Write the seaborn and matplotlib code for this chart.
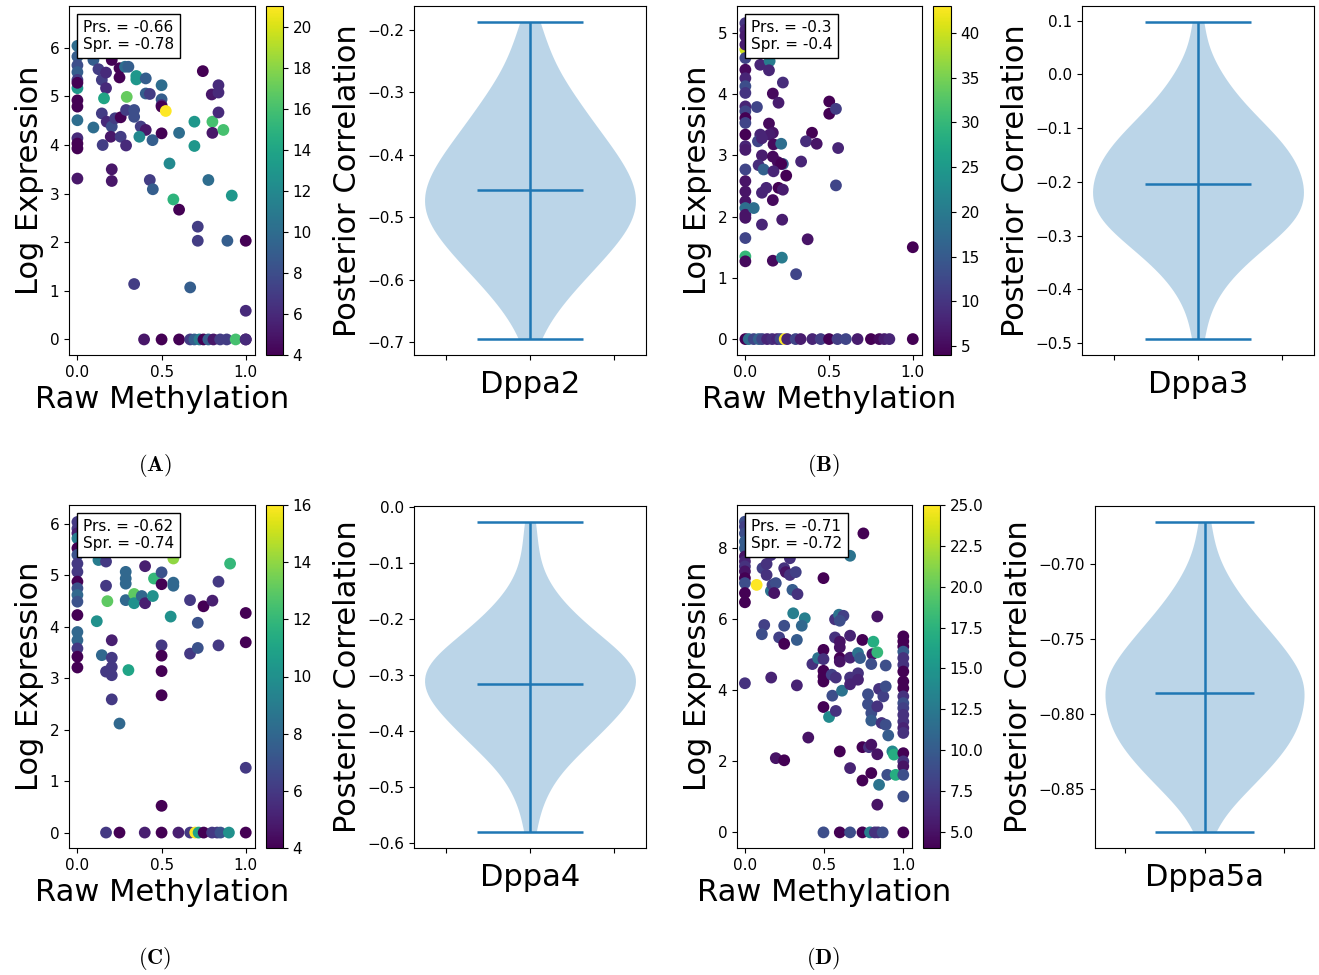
import numpy as np
import pandas as pd
import seaborn as sns
import matplotlib as mpl
import matplotlib.pyplot as plt
from matplotlib.offsetbox import AnchoredText

plt.rcParams['mathtext.fontset'] = 'cm'
plt.rcParams['xtick.labelsize'] = 11
plt.rcParams['ytick.labelsize'] = 11

# ---------------- data ----------------
# (A) Dppa2
a_meth = [0.0, 0.0, 0.0, 0.0, 0.0, 0.0, 0.0, 0.0, 0.0, 0.0, 0.0, 0.0, 0.0, 0.0,
          0.095, 0.125, 0.145, 0.17, 0.17, 0.158, 0.145, 0.174, 0.204, 0.224,
          0.257, 0.204, 0.25, 0.25, 0.283, 0.303, 0.35, 0.35, 0.406, 0.406,
          0.43, 0.293, 0.289, 0.337, 0.337, 0.376, 0.406, 0.368, 0.446, 0.198,
          0.257, 0.15, 0.289, 0.095, 0.204, 0.204, 0.43, 0.448,
          0.5, 0.5, 0.5, 0.5, 0.5, 0.525, 0.604, 0.547, 0.57, 0.604,
          0.695, 0.695, 0.715, 0.715, 0.745, 0.778, 0.802, 0.798, 0.802, 0.838,
          0.838, 0.838, 0.867, 0.917, 0.891, 1.0, 1.0, 0.337, 0.67,
          0.396, 0.5, 0.604, 0.67, 0.695, 0.725, 0.749, 0.778, 0.808, 0.848,
          0.887, 0.94, 1.0, 1.0]
a_expr = [6.04, 5.82, 5.64, 5.50, 5.34, 5.17, 5.28, 4.92, 4.79, 4.51, 4.14, 4.03, 3.93, 3.31,
          5.75, 5.56, 5.34, 5.49, 5.17, 4.96, 4.65, 4.48, 4.38, 4.55,
          4.57, 5.75, 5.58, 5.39, 5.61, 5.61, 5.42, 5.35, 5.37, 5.06,
          5.05, 4.99, 4.72, 4.72, 4.58, 4.38, 4.31, 4.17, 4.10, 4.17,
          4.17, 4.00, 3.99, 4.36, 3.50, 3.26, 3.28, 3.09,
          5.23, 4.94, 4.82, 4.79, 4.24, 4.70, 4.25, 3.62, 2.88, 2.67,
          4.48, 3.98, 2.32, 2.03, 5.52, 3.28, 4.48, 5.04, 4.25, 5.23,
          5.08, 4.67, 4.31, 2.96, 2.03, 2.03, 0.59, 1.14, 1.07,
          0, 0, 0, 0, 0, 0, 0, 0, 0, 0, 0, 0, 0, 0]
a_cov = [10, 9, 8, 9, 7, 13, 4, 4, 4, 10, 6, 4, 4, 5,
         9, 7, 7, 6, 6, 14, 7, 6, 8, 7,
         4, 4, 4, 4, 10, 9, 13, 13, 9, 9,
         7, 17, 7, 8, 8, 7, 5, 12, 9, 5,
         7, 7, 6, 10, 5, 5, 7, 9,
         10, 9, 6, 4, 4, 21, 10, 12, 15, 4,
         13, 13, 7, 7, 4, 10, 16, 5, 5, 6,
         6, 6, 16, 13, 9, 4, 6, 7, 9,
         5, 4, 4, 7, 9, 11, 4, 9, 5, 7, 7, 16, 4, 6]
a_post = [-0.695, -0.662,
          -0.645, -0.635, -0.625, -0.615, -0.605,
          -0.597, -0.592, -0.586, -0.581, -0.575, -0.570, -0.564, -0.559, -0.553,
          -0.548, -0.544, -0.540, -0.536, -0.533, -0.529, -0.525, -0.521, -0.517,
          -0.513, -0.510, -0.506, -0.502,
          -0.498, -0.495, -0.491, -0.488, -0.485, -0.481, -0.478, -0.475, -0.472,
          -0.468, -0.465, -0.462, -0.458, -0.455, -0.452,
          -0.448, -0.444, -0.440, -0.436, -0.433, -0.429, -0.425, -0.421, -0.417,
          -0.413, -0.410, -0.406, -0.402,
          -0.397, -0.393, -0.388, -0.383, -0.378, -0.373, -0.368, -0.363, -0.358, -0.353,
          -0.346, -0.339, -0.332, -0.325, -0.318, -0.311, -0.304,
          -0.294, -0.282, -0.270, -0.257,
          -0.238, -0.215,
          -0.187]

# (B) Dppa3
b_meth = [0.0, 0.0, 0.0, 0.0, 0.0, 0.0, 0.0, 0.0, 0.0, 0.0, 0.0, 0.0, 0.0, 0.0,
          0.0, 0.0, 0.0, 0.0, 0.0, 0.0, 0.0, 0.0, 0.0, 0.0, 0.0, 0.0, 0.0,
          0.089, 0.145, 0.141, 0.224, 0.164, 0.198, 0.069, 0.501, 0.501, 0.541,
          0.554, 0.398, 0.362, 0.426, 0.141, 0.164, 0.145, 0.089, 0.075, 0.099,
          0.168, 0.214, 0.099, 0.164, 0.194, 0.224, 0.214, 0.333, 0.079, 0.109,
          0.168, 0.244, 0.125, 0.099, 0.198, 0.224, 0.164, 0.05, 0.22, 0.099,
          0.372, 0.164, 0.218, 0.303, 0.541, 1.0,
          0.0, 0.02, 0.05, 0.08, 0.1, 0.13, 0.16, 0.19, 0.21, 0.235, 0.25, 0.3,
          0.33, 0.4, 0.45, 0.5, 0.55, 0.6, 0.67, 0.75, 0.8, 0.83, 0.86, 1.0]
b_expr = [4.73, 5.16, 5.05, 4.95, 4.81, 4.59, 4.40, 4.26, 4.13, 4.02, 3.80, 3.72, 3.61, 3.53,
          3.34, 3.15, 3.09, 2.77, 2.58, 2.41, 2.25, 2.14, 2.03, 1.98, 1.65, 1.35, 1.27,
          4.48, 4.54, 4.39, 4.19, 4.01, 3.86, 3.79, 3.88, 3.68, 3.76,
          3.12, 3.37, 3.23, 3.19, 3.52, 3.37, 3.34, 3.34, 3.23, 3.28,
          3.18, 3.19, 3.00, 2.98, 2.89, 2.86, 2.86, 2.90, 2.84, 2.77,
          2.74, 2.67, 2.47, 2.39, 2.47, 2.44, 2.27, 2.14, 1.95, 1.87,
          1.63, 1.28, 1.33, 1.06, 2.51, 1.50,
          0, 0, 0, 0, 0, 0, 0, 0, 0, 0, 0, 0,
          0, 0, 0, 0, 0, 0, 0, 0, 0, 0, 0, 0]
b_cov = [40, 10, 8, 7, 7, 12, 5, 8, 13, 10, 8, 12, 4, 12,
         4, 8, 7, 12, 6, 6, 6, 18, 6, 6, 12, 30, 5,
         8, 20, 8, 9, 5, 7, 12, 4, 4, 11,
         8, 4, 9, 6, 5, 6, 7, 8, 12, 8,
         5, 18, 7, 5, 5, 16, 4, 8, 9, 16,
         8, 4, 8, 8, 4, 7, 5, 18, 7, 8,
         6, 5, 20, 12, 12, 4,
         4, 18, 12, 16, 12, 8, 9, 8, 12, 43, 8, 12,
         7, 8, 11, 4, 11, 12, 7, 4, 5, 7, 8, 4]
b_post = [-0.493,
          -0.438, -0.413,
          -0.392, -0.380, -0.367, -0.355,
          -0.347, -0.341, -0.334, -0.328, -0.322, -0.316, -0.309, -0.303,
          -0.298, -0.294, -0.290, -0.286, -0.282, -0.278, -0.275, -0.271, -0.267,
          -0.263, -0.259, -0.256, -0.252,
          -0.248, -0.245, -0.241, -0.238, -0.234, -0.230, -0.227, -0.223, -0.220,
          -0.216, -0.212, -0.209, -0.205, -0.202,
          -0.198, -0.194, -0.190, -0.186, -0.182, -0.178, -0.175, -0.171, -0.167,
          -0.163, -0.159, -0.156, -0.152,
          -0.148, -0.143, -0.139, -0.134, -0.130, -0.125, -0.120, -0.116, -0.111,
          -0.107, -0.102,
          -0.096, -0.089, -0.082, -0.075, -0.068, -0.061, -0.054,
          -0.044, -0.031, -0.019, -0.006,
          0.013, 0.038,
          0.098]

# (C) Dppa4
c_meth = [0.0, 0.0, 0.0, 0.0, 0.0, 0.0, 0.0, 0.0, 0.0, 0.0, 0.0, 0.0, 0.0, 0.0, 0.0, 0.0, 0.0, 0.0,
          0.125, 0.17, 0.17, 0.178, 0.115, 0.145, 0.17, 0.204, 0.204, 0.204,
          0.204, 0.204, 0.25, 0.303, 0.287, 0.287, 0.287, 0.287, 0.337, 0.337,
          0.382, 0.402, 0.402, 0.448, 0.455, 0.5, 0.5, 0.5, 0.5, 0.5,
          0.5, 0.5, 0.57, 0.57, 0.57, 0.554, 0.669, 0.669, 0.715, 0.715,
          0.749, 0.802, 0.838, 0.838, 0.907, 1.0, 1.0, 1.0,
          0.17, 0.25, 0.4, 0.5, 0.6, 0.67, 0.7, 0.72, 0.75, 0.8, 0.83, 0.85, 0.9, 1.0]
c_expr = [6.04, 5.91, 5.82, 5.72, 5.53, 5.40, 5.23, 5.07, 4.88, 4.75, 4.62, 4.49, 4.23, 3.90,
          3.74, 3.58, 3.42, 3.21,
          5.30, 5.27, 4.80, 4.50, 4.11, 3.45, 3.13, 3.74, 3.40, 3.22,
          3.06, 2.59, 2.12, 3.16, 5.07, 4.94, 4.84, 4.52, 4.64, 4.46,
          4.60, 4.46, 5.18, 4.60, 4.94, 5.06, 4.83, 3.64, 3.44, 3.14,
          2.67, 0.52, 5.33, 4.86, 4.80, 4.20, 4.52, 3.48, 4.08, 3.59,
          4.40, 4.51, 4.88, 3.64, 5.23, 4.27, 3.70, 1.26,
          0, 0, 0, 0, 0, 0, 0, 0, 0, 0, 0, 0, 0, 0]
c_cov = [6, 6, 5, 9, 4, 7, 6, 6, 4, 7, 8, 7, 4, 8, 8, 6, 4, 4,
         9, 6, 6, 13, 10, 8, 6, 5, 6, 6,
         6, 6, 8, 11, 8, 8, 8, 8, 13, 10,
         8, 5, 5, 10, 12, 7, 4, 6, 4, 4,
         4, 4, 14, 8, 8, 10, 6, 6, 7, 7,
         4, 5, 6, 6, 12, 4, 4, 6,
         6, 4, 5, 4, 5, 6, 16, 11, 4, 6, 6, 7, 10, 4]
c_post = [-0.582,
          -0.535, -0.512,
          -0.493, -0.481, -0.468, -0.456,
          -0.447, -0.442, -0.436, -0.431, -0.425, -0.419, -0.414, -0.408, -0.403,
          -0.398, -0.394, -0.390, -0.386, -0.382, -0.378, -0.375, -0.371, -0.367,
          -0.363, -0.359, -0.356, -0.352,
          -0.349, -0.346, -0.343, -0.340, -0.337, -0.334, -0.331, -0.328, -0.325,
          -0.322, -0.319, -0.316, -0.313, -0.310, -0.307, -0.304, -0.301,
          -0.298, -0.295, -0.292, -0.289, -0.286, -0.283, -0.280, -0.277, -0.274,
          -0.271, -0.268, -0.265, -0.262, -0.259, -0.256, -0.253,
          -0.247, -0.242, -0.237, -0.232, -0.227, -0.222, -0.217, -0.212, -0.207, -0.202,
          -0.195, -0.185, -0.175, -0.165, -0.155,
          -0.138, -0.113,
          -0.075,
          -0.026]

# (D) Dppa5a
d_meth = [0.0, 0.0, 0.0, 0.0, 0.0, 0.0, 0.0, 0.0, 0.0, 0.0, 0.0, 0.0, 0.0, 0.0,
          0.074, 0.111, 0.137, 0.137, 0.164, 0.174, 0.195, 0.185, 0.164, 0.248,
          0.258, 0.284, 0.284, 0.321, 0.3, 0.332, 0.496, 0.748, 0.664, 0.122,
          0.107, 0.216, 0.248, 0.248, 0.305, 0.378, 0.359, 0.328, 0.166, 0.328,
          0.4, 0.195, 0.248,
          0.426, 0.462, 0.496, 0.496, 0.496, 0.496, 0.496, 0.496, 0.548, 0.574,
          0.552, 0.531, 0.574, 0.613, 0.599, 0.569, 0.594, 0.622, 0.599, 0.569,
          0.599, 0.599, 0.599, 0.599, 0.664, 0.664, 0.664, 0.664, 0.664, 0.714,
          0.727, 0.714, 0.714, 0.742, 0.742, 0.742, 0.777, 0.777, 0.798, 0.798,
          0.783, 0.798, 0.798, 0.811, 0.805, 0.798, 0.836, 0.836, 0.836, 0.847,
          0.836, 0.847, 0.836, 0.874, 0.889, 0.889, 0.863, 0.889, 0.905, 0.899,
          0.931, 0.941, 0.952,
          1.0, 1.0, 1.0, 1.0, 1.0, 1.0, 1.0, 1.0, 1.0, 1.0, 1.0,
          1.0, 1.0, 1.0, 1.0, 1.0, 1.0, 1.0, 1.0, 1.0, 1.0, 1.0,
          0.496, 0.599, 0.664, 0.742, 0.79, 0.82, 0.84, 0.87]
d_expr = [8.75, 8.61, 8.42, 8.19, 8.00, 7.77, 7.63, 7.49, 7.35, 7.16, 7.02, 6.74, 6.48, 4.20,
          6.97, 7.44, 7.56, 7.25, 6.80, 6.97, 7.02, 6.74, 7.81, 7.44,
          7.33, 7.25, 7.72, 7.33, 6.83, 6.71, 7.16, 8.42, 7.79, 5.84,
          5.58, 5.49, 5.31, 5.82, 6.17, 6.03, 5.82, 5.42, 4.36, 4.14,
          2.67, 2.09, 2.03,
          4.74, 4.91, 5.14, 4.88, 4.55, 4.39, 4.25, 3.53, 4.44, 4.36,
          3.85, 3.25, 3.42, 3.99, 2.28, 6.00, 6.13, 6.10, 5.96, 5.49,
          5.37, 5.21, 4.91, 4.81, 5.54, 4.92, 4.36, 4.17, 1.81, 5.05,
          4.91, 4.48, 4.30, 5.42, 2.40, 1.46, 3.89, 3.61, 3.36, 3.15,
          2.40, 2.47, 1.67, 5.37, 5.02, 4.74, 5.07, 6.08, 3.55, 4.04,
          2.20, 1.34, 0.78, 3.83, 4.70, 4.11, 3.08, 3.03, 2.73, 1.62,
          2.28, 2.19, 1.62,
          5.52, 5.38, 5.23, 5.09, 4.91, 4.72, 4.53, 4.25, 4.06, 3.83, 3.64,
          3.50, 3.31, 3.12, 2.94, 2.80, 2.23, 2.00, 1.86, 1.62, 1.01, 0,
          0, 0, 0, 0, 0, 0, 0, 0]
d_cov = [9, 8, 9, 10, 10, 5, 6, 7, 5, 4, 9, 4, 4, 7,
         25, 8, 7, 7, 12, 8, 9, 5, 7, 7,
         5, 7, 7, 8, 10, 7, 4, 4, 12, 8,
         9, 8, 4, 9, 13, 13, 11, 10, 6, 6,
         5, 5, 4,
         7, 12, 4, 7, 4, 4, 4, 4, 8, 7,
         9, 14, 7, 12, 4, 7, 12, 8, 9, 7,
         5, 5, 4, 5, 6, 6, 7, 6, 6, 12,
         10, 7, 6, 4, 4, 4, 9, 9, 9, 10,
         7, 5, 4, 17, 5, 9, 18, 5, 7, 7,
         5, 12, 5, 8, 9, 9, 7, 9, 10, 9,
         14, 17, 17,
         4, 4, 4, 10, 7, 7, 4, 4, 4, 7, 9,
         8, 7, 7, 6, 7, 4, 7, 5, 9, 9, 4,
         9, 4, 9, 4, 13, 7, 7, 9]
d_post = [-0.879, -0.865,
          -0.858, -0.855, -0.851, -0.848, -0.845, -0.842,
          -0.839, -0.837, -0.835, -0.833, -0.831, -0.829, -0.827, -0.825, -0.823, -0.821,
          -0.819, -0.818, -0.816, -0.815, -0.813, -0.812, -0.810, -0.809, -0.807,
          -0.806, -0.804, -0.803, -0.801,
          -0.799, -0.798, -0.796, -0.795, -0.793, -0.792, -0.790, -0.789, -0.787,
          -0.786, -0.784, -0.783, -0.782, -0.781,
          -0.779, -0.778, -0.776, -0.775, -0.773, -0.772, -0.770, -0.769, -0.767,
          -0.766, -0.764, -0.763, -0.761,
          -0.759, -0.757, -0.755, -0.753, -0.751, -0.749, -0.747, -0.745, -0.743, -0.741,
          -0.738, -0.735, -0.731, -0.728, -0.725, -0.722,
          -0.716, -0.710, -0.704,
          -0.692,
          -0.672]

genes = ['Dppa2', 'Dppa3', 'Dppa4', 'Dppa5a']
pearson = ['-0.66', '-0.3', '-0.62', '-0.71']
spearman = ['-0.78', '-0.4', '-0.74', '-0.72']
cov_range = [(4, 21), (4, 43), (4, 16), (4, 25)]
panel_tags = ['A', 'B', 'C', 'D']

# ---------------- layout (pixels) ----------------
W, H = 1319, 975


def rect(l, t, r, b):
    return [l / W, 1 - b / H, (r - l) / W, (b - t) / H]


layout = [
    dict(sc=(69, 6, 255, 355), cb=(266, 6, 283, 355), vi=(414, 6, 646, 355),
         ylim=(-0.32, 6.86), tag=(155, 465)),
    dict(sc=(737, 6, 922, 355), cb=(933, 6, 951, 355), vi=(1082, 6, 1314, 355),
         ylim=(-0.26, 5.44), tag=(823, 465)),
    dict(sc=(69, 505, 255, 848), cb=(266, 505, 283, 848), vi=(414, 506, 646, 848),
         ylim=(-0.30, 6.37), tag=(155, 958)),
    dict(sc=(737, 505, 912, 848), cb=(923, 505, 940, 848), vi=(1095, 506, 1314, 848),
         ylim=(-0.44, 9.22), tag=(823, 958)),
]

scatter_data = [(a_meth, a_expr, a_cov), (b_meth, b_expr, b_cov),
                (c_meth, c_expr, c_cov), (d_meth, d_expr, d_cov)]
posteriors = [a_post, b_post, c_post, d_post]

fig = plt.figure(figsize=(W / 100, H / 100), dpi=100)
blue = '#1f77b4'

for i in range(4):
    lay = layout[i]
    meth, expr, cov = scatter_data[i]
    df = pd.DataFrame({'meth': meth, 'expr': expr, 'cov': cov})
    norm = mpl.colors.Normalize(*cov_range[i])

    ax = fig.add_axes(rect(*lay['sc']))
    sns.scatterplot(data=df, x='meth', y='expr', hue='cov', palette='viridis',
                    hue_norm=norm, s=72, linewidth=0, legend=False, ax=ax)
    ax.set_xlim(-0.05, 1.055)
    ax.set_ylim(*lay['ylim'])
    ax.set_xticks([0, 0.5, 1.0])
    ax.set_xlabel('Raw Methylation', fontsize=22)
    ax.set_ylabel('Log Expression', fontsize=22)
    at = AnchoredText(f'Prs. = {pearson[i]}\nSpr. = {spearman[i]}',
                      loc='upper left', prop=dict(size=11))
    ax.add_artist(at)

    cax = fig.add_axes(rect(*lay['cb']))
    fig.colorbar(mpl.cm.ScalarMappable(norm=norm, cmap='viridis'), cax=cax)

    vax = fig.add_axes(rect(*lay['vi']))
    post = np.array(posteriors[i])
    sns.violinplot(y=post, ax=vax, inner=None, cut=0, width=0.5, color=blue,
                   saturation=1, linewidth=0, bw_adjust=0.85)
    for coll in vax.collections:
        coll.set_alpha(0.3)
    lo, hi, mid = post.min(), post.max(), post.mean()
    vax.hlines([lo, hi, mid], -0.125, 0.125, color=blue, lw=1.8)
    vax.vlines(0, lo, hi, color=blue, lw=1.8)
    vax.set_xlim(-0.275, 0.275)
    vax.set_xticks([-0.2, 0, 0.2])
    vax.set_xticklabels([])
    vax.set_xlabel(genes[i], fontsize=22)
    vax.set_ylabel('Posterior Correlation', fontsize=22)

    tx, ty = lay['tag']
    fig.text(tx / W, 1 - ty / H, r'$\mathbf{(%s)}$' % panel_tags[i],
             ha='center', va='center', fontsize=16)

fig.savefig('out.png', dpi=100)
